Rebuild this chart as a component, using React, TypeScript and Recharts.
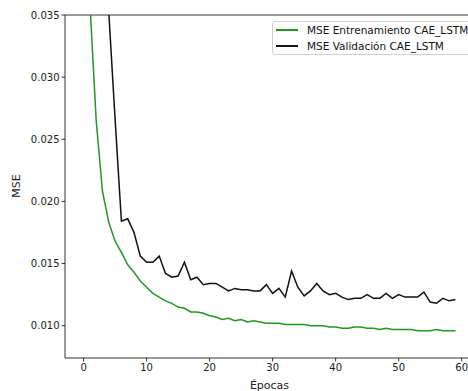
import React from "react";
import {
  LineChart,
  Line,
  XAxis,
  YAxis,
  Legend,
  ReferenceLine,
} from "recharts";

const epochs = [
  0, 1, 2, 3, 4, 5, 6, 7, 8, 9, 10, 11, 12, 13, 14, 15, 16, 17, 18, 19, 20,
  21, 22, 23, 24, 25, 26, 27, 28, 29, 30, 31, 32, 33, 34, 35, 36, 37, 38, 39,
  40, 41, 42, 43, 44, 45, 46, 47, 48, 49, 50, 51, 52, 53, 54, 55, 56, 57, 58,
  59,
];

const trainMse = [
  0.06, 0.036, 0.0265, 0.0208, 0.0183, 0.0168, 0.0159, 0.0149, 0.0143, 0.0136,
  0.0131, 0.0126, 0.0123, 0.012, 0.0118, 0.0115, 0.0114, 0.0111, 0.0111, 0.011,
  0.0108, 0.0107, 0.0105, 0.0106, 0.0104, 0.0105, 0.0103, 0.0104, 0.0103,
  0.0102, 0.0102, 0.0102, 0.0101, 0.0101, 0.0101, 0.0101, 0.01, 0.01, 0.01,
  0.0099, 0.0099, 0.0098, 0.0098, 0.0099, 0.0099, 0.0098, 0.0098, 0.0097,
  0.0098, 0.0097, 0.0097, 0.0097, 0.0097, 0.0096, 0.0096, 0.0096, 0.0097,
  0.0096, 0.0096, 0.0096,
];

const valMse = [
  0.09, 0.07, 0.055, 0.045, 0.0352, 0.0266, 0.0184, 0.0186, 0.0175, 0.0156,
  0.0151, 0.0151, 0.0156, 0.0142, 0.0139, 0.014, 0.0151, 0.0137, 0.0139,
  0.0133, 0.0134, 0.0134, 0.0131, 0.0128, 0.013, 0.0129, 0.0129, 0.0128,
  0.0128, 0.0133, 0.0126, 0.013, 0.0123, 0.0144, 0.0131, 0.0124, 0.0128,
  0.0134, 0.0128, 0.0125, 0.0126, 0.0123, 0.0121, 0.0122, 0.0122, 0.0125,
  0.0122, 0.0122, 0.0126, 0.0122, 0.0125, 0.0123, 0.0123, 0.0123, 0.0127,
  0.0119, 0.0118, 0.0122, 0.012, 0.0121,
];

const xTicks = [0, 10, 20, 30, 40, 50, 60];
const yTicks = [0.01, 0.015, 0.02, 0.025, 0.03, 0.035];

const SERIES = [
  { key: "train", name: "MSE Entrenamiento CAE_LSTM", color: "#259525" },
  { key: "val", name: "MSE Validación CAE_LSTM", color: "#111111" },
];

const FONT = "'DejaVu Sans', sans-serif";
const tickStyle = { fontSize: 10, fill: "#222", fontFamily: FONT };
const labelStyle = { fontSize: 11, fill: "#222", fontFamily: FONT };

const data = epochs.map((e, i) => ({
  epoch: e,
  train: trainMse[i],
  val: valMse[i],
}));

const App = () => {
  return (
    <div
      style={{
        position: "absolute",
        left: 0,
        top: 0,
        width: 468,
        height: 391,
        overflow: "hidden",
        background: "#fff",
        fontFamily: FONT,
      }}
    >
      <LineChart
        width={476}
        height={391}
        data={data}
        margin={{ top: 15, right: 2, bottom: 0, left: 0 }}
      >
        <XAxis
          dataKey="epoch"
          type="number"
          domain={[-2.95, 61.95]}
          allowDataOverflow
          ticks={xTicks}
          tick={tickStyle}
          tickSize={3.5}
          tickLine={{ stroke: "#000", strokeWidth: 0.8 }}
          axisLine={{ stroke: "#000", strokeWidth: 0.8 }}
          height={33}
          label={{
            value: "Épocas",
            position: "insideBottom",
            offset: 2,
            style: labelStyle,
          }}
        />
        <YAxis
          type="number"
          domain={[0.0074, 0.035]}
          allowDataOverflow
          ticks={yTicks}
          tickFormatter={(v: number) => v.toFixed(3)}
          tick={tickStyle}
          tickSize={3.5}
          tickLine={{ stroke: "#000", strokeWidth: 0.8 }}
          axisLine={{ stroke: "#000", strokeWidth: 0.8 }}
          width={65}
          label={() => (
            <text
              x={16}
              y={186}
              transform="rotate(-90 16 186)"
              textAnchor="middle"
              dominantBaseline="central"
              style={labelStyle}
            >
              MSE
            </text>
          )}
        />
        <ReferenceLine y={0.035} stroke="#000" strokeWidth={0.8} />
        {SERIES.map((s) => (
          <Line
            key={s.key}
            dataKey={s.key}
            name={s.name}
            stroke={s.color}
            strokeWidth={1.5}
            dot={false}
            activeDot={false}
            isAnimationActive={false}
          />
        ))}
        <Legend
          layout="horizontal"
          verticalAlign="middle"
          align="center"
          wrapperStyle={{ top: 21, left: 272, width: 210, height: 34 }}
          content={() => (
            <div
              style={{
                width: 210,
                height: 34,
                boxSizing: "border-box",
                border: "1px solid #d0d0d0",
                borderRadius: 3,
                background: "rgba(255,255,255,0.8)",
                padding: "0 0 0 3px",
              }}
            >
              {SERIES.map((s) => (
                <div
                  key={s.key}
                  style={{
                    display: "flex",
                    alignItems: "center",
                    height: 16,
                    fontSize: 10.5,
                    color: "#111",
                    fontFamily: FONT,
                    whiteSpace: "nowrap",
                  }}
                >
                  <span
                    style={{
                      display: "inline-block",
                      width: 22,
                      height: 2,
                      background: s.color,
                      marginRight: 9,
                    }}
                  />
                  <span>{s.name}</span>
                </div>
              ))}
            </div>
          )}
        />
      </LineChart>
    </div>
  );
};

export default App;
